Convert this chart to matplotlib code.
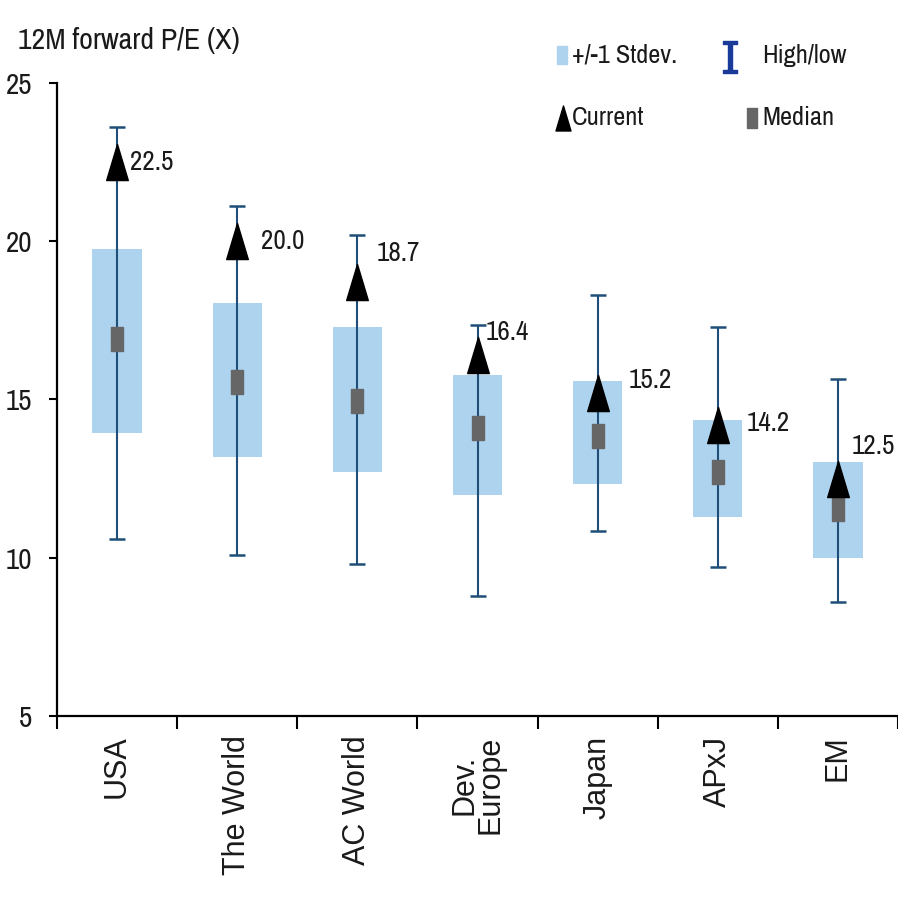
import numpy as np
import matplotlib
matplotlib.use("Agg")
import matplotlib.pyplot as plt
from matplotlib.path import Path

# Datos
categorias = ["USA", "The World", "AC World", "Dev.\nEurope", "Japan", "APxJ", "EM"]
actual = [22.5, 20.0, 18.7, 16.4, 15.2, 14.2, 12.5]
mediana = [16.9, 15.55, 14.95, 14.1, 13.85, 12.7, 11.55]
maximo = [23.6, 21.1, 20.2, 17.35, 18.3, 17.3, 15.65]
minimo = [10.58, 10.1, 9.8, 8.79, 10.86, 9.72, 8.6]
std_alto = [19.75, 18.05, 17.3, 15.77, 15.6, 14.35, 13.03]
std_bajo = [13.95, 13.18, 12.7, 11.97, 12.33, 11.3, 10.0]

# desplazamiento de las etiquetas (pt)
offs = [(9, 0), (17, 0), (14, 21), (6, 16), (22, 9), (21, 1), (10, 23)]

NARROW = ["Archivo Narrow", "Liberation Sans", "DejaVu Sans"]
AZUL_CLARO = "#aed3ef"
AZUL_OSC = "#1f4e79"
GRIS = "#666666"
TXT = "#1a1a1a"

# marcadores (la imagen original está estirada en vertical)
tri = Path([(-0.6, -1), (0.6, -1), (0, 1), (-0.6, -1)],
           [Path.MOVETO, Path.LINETO, Path.LINETO, Path.CLOSEPOLY])
rect = Path([(-0.55, -1), (0.55, -1), (0.55, 1), (-0.55, 1), (-0.55, -1)],
            [Path.MOVETO, Path.LINETO, Path.LINETO, Path.LINETO, Path.CLOSEPOLY])
ibeam = Path([(-0.42, 1), (0.42, 1), (0.42, 0.82), (0.12, 0.82), (0.12, -0.82),
              (0.42, -0.82), (0.42, -1), (-0.42, -1), (-0.42, -0.82), (-0.12, -0.82),
              (-0.12, 0.82), (-0.42, 0.82), (-0.42, 1)],
             [Path.MOVETO] + [Path.LINETO] * 11 + [Path.CLOSEPOLY])

fig = plt.figure(figsize=(8.98, 9.11), dpi=100)
ax = fig.add_axes([57 / 898, (911 - 716) / 911, 1 - 57 / 898, (716 - 83) / 911])

x = np.arange(len(categorias))
mediana = np.array(mediana)
std_alto = np.array(std_alto)
std_bajo = np.array(std_bajo)

# +/-1 desviación
ax.bar(x, std_alto - std_bajo, bottom=std_bajo, width=0.41, color=AZUL_CLARO, zorder=1)

# máximo / mínimo
ax.errorbar(x, mediana,
            yerr=[mediana - np.array(minimo), np.array(maximo) - mediana],
            fmt="none", ecolor=AZUL_OSC, elinewidth=1.5, capsize=5.5, capthick=1.8, zorder=2)

# mediana y actual
ax.plot(x, mediana, linestyle="none", marker=rect, markersize=17, color=GRIS, zorder=3)
ax.plot(x, actual, linestyle="none", marker=tri, markersize=26, color="black", zorder=4)

for i, v in enumerate(actual):
    ax.annotate(f"{v:.1f}", (x[i], v), xytext=offs[i], textcoords="offset points",
                ha="left", va="center", fontsize=19.5, family=NARROW, color=TXT)

# ejes
ax.set_xlim(-0.5, len(categorias) - 0.5)
ax.set_ylim(5, 25)
ax.set_yticks([5, 10, 15, 20, 25])
ax.tick_params(axis="y", labelsize=21, length=6, width=1.5, pad=12, colors="black",
               labelcolor=TXT)
for lab in ax.get_yticklabels():
    lab.set_family(NARROW)

ax.set_xticks(np.arange(len(categorias) + 1) - 0.5)
ax.set_xticklabels([])
ax.tick_params(axis="x", which="major", length=9, width=1.5, direction="out")
ax.set_xticks(x, minor=True)
ax.set_xticklabels(categorias, minor=True, rotation=90, fontsize=22,
                   family=["Liberation Sans", "DejaVu Sans"], color=TXT,
                   va="top", ha="center", linespacing=0.8)
ax.tick_params(axis="x", which="minor", length=0, pad=14)

for s in ["top", "right"]:
    ax.spines[s].set_visible(False)
for s in ["left", "bottom"]:
    ax.spines[s].set_linewidth(1.6)

# título
fig.text(18 / 898, 1 - 40 / 911, "12M forward P/E (X)", fontsize=21.5, family=NARROW,
         color=TXT, ha="left", va="center")

# leyenda manual
tr = ax.transAxes
ax.plot([0.600], [1.044], marker=rect, markersize=13, color=AZUL_CLARO,
        transform=tr, clip_on=False, linestyle="none")
ax.text(0.612, 1.044, "+/-1 Stdev.", transform=tr, fontsize=19, family=NARROW,
        color=TXT, va="center", ha="left")
ax.plot([0.800], [1.041], marker=ibeam, markersize=23, color="#1a3a99",
        transform=tr, clip_on=False, linestyle="none")
ax.text(0.839, 1.044, "High/low", transform=tr, fontsize=19, family=NARROW,
        color=TXT, va="center", ha="left")
ax.plot([0.602], [0.945], marker=tri, markersize=18, color="black",
        transform=tr, clip_on=False, linestyle="none")
ax.text(0.612, 0.945, "Current", transform=tr, fontsize=19, family=NARROW,
        color=TXT, va="center", ha="left")
ax.plot([0.826], [0.945], marker=rect, markersize=14, color=GRIS,
        transform=tr, clip_on=False, linestyle="none")
ax.text(0.839, 0.945, "Median", transform=tr, fontsize=19, family=NARROW,
        color=TXT, va="center", ha="left")

fig.savefig("out.png", dpi=100)
